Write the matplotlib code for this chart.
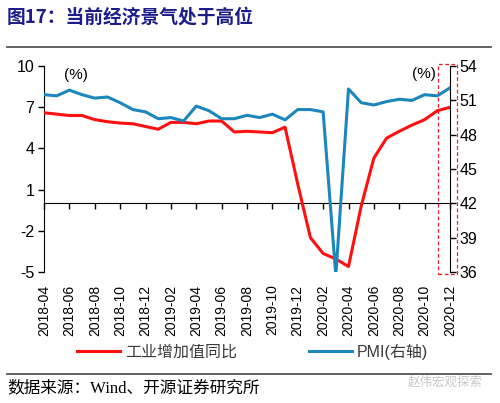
import matplotlib
matplotlib.use('Agg')
import matplotlib.pyplot as plt
import matplotlib.patches as mpatches
import pandas as pd

plt.rcParams['font.family'] = ['Liberation Sans', 'Noto Sans CJK SC', 'DejaVu Sans']
plt.rcParams['axes.unicode_minus'] = False

# 月份标签 (33 个点, 2018-04 至 2020-12)
months = pd.period_range('2018-04', '2020-12', freq='M').strftime('%Y-%m').tolist()

# 工业增加值同比 (%)
ind_va = [6.6, 6.5, 6.4, 6.4, 6.1, 5.95, 5.85, 5.8, 5.6, 5.4,
          5.9, 5.9, 5.8, 6.0, 6.0, 5.2, 5.25, 5.2, 5.15, 5.55,
          1.4, -2.5, -3.65, -4.05, -4.6, -0.2, 3.3, 4.75, 5.25, 5.7,
          6.1, 6.75, 7.0]

# PMI (右轴)
pmi = [51.5, 51.4, 51.9, 51.5, 51.2, 51.3, 50.8, 50.2, 50.0, 49.4,
       49.5, 49.2, 50.5, 50.1, 49.4, 49.4, 49.7, 49.5, 49.8, 49.3,
       50.2, 50.2, 50.0, 35.7, 52.0, 50.8, 50.6, 50.9, 51.1, 51.0,
       51.5, 51.4, 52.1]

red = '#ff1010'
blue = '#1b87bd'
navy = '#1d1d8a'

x = list(range(len(months)))

fig = plt.figure(figsize=(5, 4.03), dpi=100)
ax = fig.add_axes([0.088, 0.325, 0.812, 0.511])
ax2 = ax.twinx()

l1, = ax.plot(x, ind_va, color=red, lw=2.2, label='工业增加值同比', zorder=3)
l2, = ax2.plot(x, pmi, color=blue, lw=2.2, label='PMI(右轴)', zorder=3)

ax.set_xlim(0, len(months) - 1)
ax.set_ylim(-5, 10)
ax.set_yticks([-5, -2, 1, 4, 7, 10])
ax2.set_ylim(36, 54)
ax2.set_yticks([36, 39, 42, 45, 48, 51, 54])

# 零轴 + 向下刻度
ax.spines['bottom'].set_position(('data', 0))
ax.spines['top'].set_visible(False)
ax.spines['right'].set_visible(False)
ax.set_xticks(x[::2])
ax.tick_params(axis='x', direction='out', length=4, width=1, labelbottom=False)
ax.tick_params(axis='y', direction='out', length=4, width=1, labelsize=11.5, pad=3)

for s in ['top', 'bottom', 'left']:
    ax2.spines[s].set_visible(False)
ax2.tick_params(axis='y', direction='out', length=4, width=1, labelsize=11.5, pad=3)

# 底部日期标签
sec = ax.secondary_xaxis('bottom')
sec.set_xticks(x[::2], months[::2], rotation=90, fontsize=10)
sec.tick_params(length=0, pad=9)
sec.spines['bottom'].set_visible(False)

ax.text(0.05, 0.955, '(%)', transform=ax.transAxes, fontsize=11, ha='left', va='center')
ax2.text(0.935, 0.96, '(%)', transform=ax.transAxes, fontsize=11, ha='center', va='center')

# 红色虚线框
rect = mpatches.Rectangle((0.970, -0.01), 0.047, 1.02, transform=ax.transAxes,
                          fill=False, ec='#e8202a', ls=(0, (3, 2)), lw=0.9, clip_on=False)
ax.add_patch(rect)

fig.legend([l1, l2], ['工业增加值同比', 'PMI(右轴)'], loc='center', bbox_to_anchor=(0.505, 0.127),
           ncol=2, frameon=False, handlelength=2.7, columnspacing=4.5, handletextpad=0.3,
           prop={'family': ['Liberation Sans', 'Noto Sans CJK SC'], 'size': 11.5}, labelcolor='#3a3a3a')

# 标题和来源
fig.text(0.014, 0.958, '图17：当前经济景气处于高位', fontsize=13.5, fontweight='bold', color=navy,
         family=['Noto Sans CJK SC'], ha='left', va='center')
fig.add_artist(plt.Line2D([0.014, 0.982], [0.884, 0.884], color='#555555', lw=1.3))
fig.add_artist(plt.Line2D([0.014, 0.982], [0.072, 0.072], color='#555555', lw=1.3))
fig.text(0.014, 0.037, '数据来源：Wind、开源证券研究所', fontsize=12, color='black',
         family=['Liberation Serif', 'Noto Sans CJK SC'], ha='left', va='center')
fig.text(0.965, 0.052, '赵伟宏观探索', fontsize=9, color='#c8c8c8',
         family=['Noto Sans CJK SC'], ha='right', va='center')

fig.savefig('out.png', dpi=100)
